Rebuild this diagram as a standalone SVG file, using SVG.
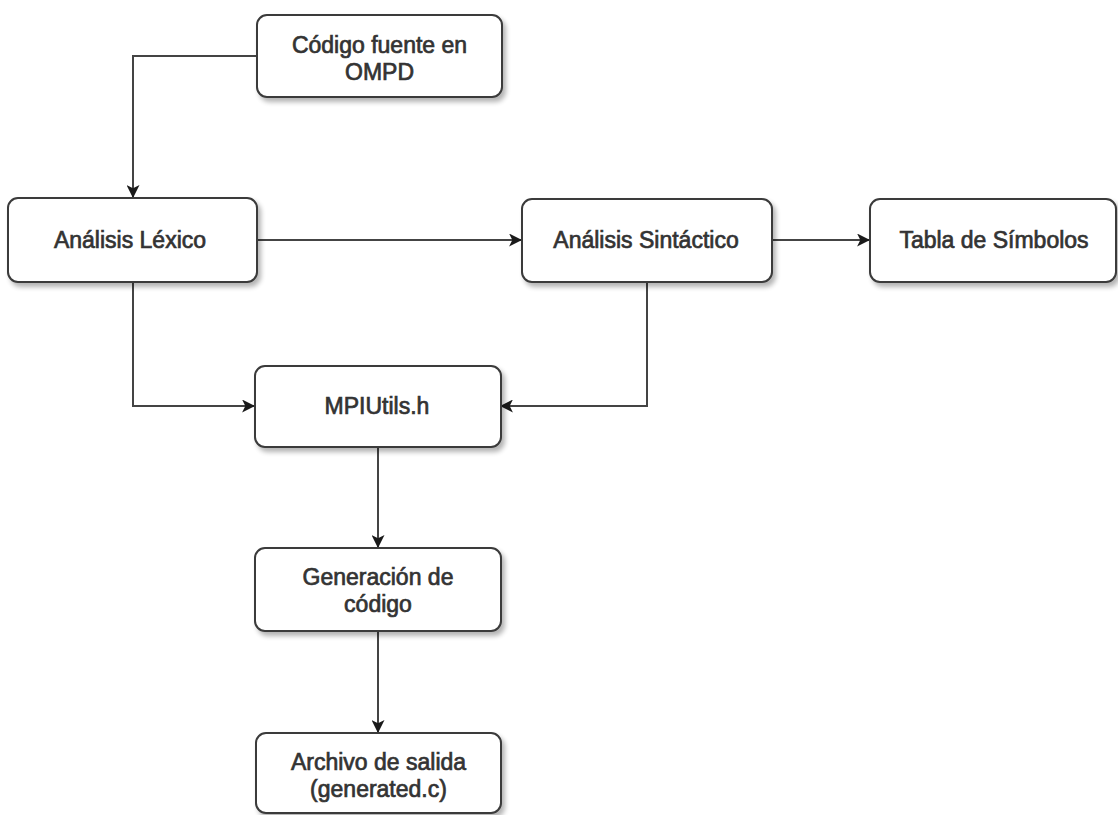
<svg xmlns="http://www.w3.org/2000/svg" width="1118" height="815" viewBox="0 0 1118 815">
  <defs>
    <filter id="shadow" x="-10%" y="-10%" width="130%" height="140%">
      <feGaussianBlur in="SourceAlpha" stdDeviation="2.5"/>
      <feOffset dx="3" dy="4" result="off"/>
      <feComponentTransfer><feFuncA type="linear" slope="0.3"/></feComponentTransfer>
      <feMerge><feMergeNode/><feMergeNode in="SourceGraphic"/></feMerge>
    </filter>
    <marker id="arrow" viewBox="0 0 12 12" refX="11" refY="6" markerWidth="13" markerHeight="13" markerUnits="userSpaceOnUse" orient="auto">
      <path d="M0,0 L12,6 L0,12 L3,6 Z" fill="#1a1a1a"/>
    </marker>
    <style>
      .box { fill: #ffffff; stroke: #3a3a3a; stroke-width: 2; filter: url(#shadow); }
      .lbl { font-family: "Liberation Sans", Arial, Helvetica, sans-serif; font-size: 23px; fill: #333333; stroke: #333333; stroke-width: 0.7; text-anchor: middle; }
      .edge { fill: none; stroke: #444444; stroke-width: 2; marker-end: url(#arrow); }
    </style>
  </defs>
  <rect width="1118" height="815" fill="#ffffff"/>

  <g id="connectors">
    <path class="edge" d="M257,56 L133,56 L133,197"/>
    <path class="edge" d="M257,240 L521,240"/>
    <path class="edge" d="M772,240 L869,240"/>
    <path class="edge" d="M133,282 L133,406 L254,406"/>
    <path class="edge" d="M647,282 L647,406 L501,406"/>
    <path class="edge" d="M378,447 L378,547"/>
    <path class="edge" d="M378,631 L378,732"/>
  </g>

  <g id="codigo-fuente">
    <rect class="box" x="257" y="15" width="245" height="82" rx="10"/>
    <text class="lbl" x="379.5" y="53">Código fuente en</text>
    <text class="lbl" x="379.5" y="80">OMPD</text>
  </g>

  <g id="analisis-lexico">
    <rect class="box" x="8" y="198" width="249" height="84" rx="10"/>
    <text class="lbl" x="130" y="248">Análisis Léxico</text>
  </g>

  <g id="analisis-sintactico">
    <rect class="box" x="522" y="199" width="250" height="83" rx="10"/>
    <text class="lbl" x="646" y="248">Análisis Sintáctico</text>
  </g>

  <g id="tabla-simbolos">
    <rect class="box" x="870" y="199" width="246" height="83" rx="10"/>
    <text class="lbl" x="994" y="248">Tabla de Símbolos</text>
  </g>

  <g id="mpiutils">
    <rect class="box" x="255" y="366" width="246" height="81" rx="10"/>
    <text class="lbl" x="377" y="414">MPIUtils.h</text>
  </g>

  <g id="generacion-codigo">
    <rect class="box" x="255" y="548" width="246" height="83" rx="10"/>
    <text class="lbl" x="378" y="585">Generación de</text>
    <text class="lbl" x="378" y="612">código</text>
  </g>

  <g id="archivo-salida">
    <rect class="box" x="256" y="733" width="245" height="80" rx="10"/>
    <text class="lbl" x="378.5" y="770">Archivo de salida</text>
    <text class="lbl" x="378.5" y="797">(generated.c)</text>
  </g>
</svg>
